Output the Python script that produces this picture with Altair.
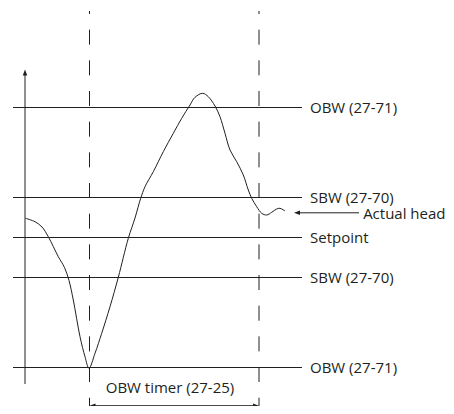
import altair as alt
import pandas as pd

# Pressure curve ("Actual head"), time t vs head h (setpoint = 0)
curve_t = [0.05, 1.0, 1.7, 2.33, 3.33, 3.95, 4.4, 4.83, 5.5, 6.0, 6.4,
           7.0, 7.67, 8.5, 9.33, 10.33, 11.0, 11.57, 12.0, 12.83, 13.83, 14.83, 15.67,
           16.5, 17.0, 17.77, 18.33, 19.0, 19.5, 20.0, 20.5, 21.17, 21.83, 22.33, 22.67,
           23.17, 23.67, 24.17, 24.67, 25.17, 25.5, 26.0]
curve_h = [1.92, 1.58, 1.05, 0.08, -1.92, -3.0, -4.3, -6.25, -9.92, -11.92, -13.08,
           -11.58, -9.58, -6.92, -3.98, -0.08, 1.95, 3.92, 5.08, 6.58, 8.58, 10.42, 11.92,
           13.25, 14.02, 14.42, 14.08, 13.15, 12.08, 10.42, 8.75, 7.58, 6.25, 4.75, 3.92,
           3.08, 2.42, 2.25, 2.52, 2.85, 2.92, 2.65]

# Band levels and their labels
level_h = [13, 4, 0, -4, -13]
level_labels = ["OBW (27-71)", "SBW (27-70)", "Setpoint", "SBW (27-70)", "OBW (27-71)"]
level_t0, level_t1, label_t = -1.2, 27.7, 28.5

# Timer marks
timer_t = [6.45, 23.4]
timer_label = "OBW timer (27-25)"
actual_label = "Actual head"

W, H = 438, 398
X_DOM = [-1.7, -1.7 + W / 10]
Y_DOM = [22.95 - H / 10, 22.95]
INK = "#231f20"
FONT = "Open Sans"
FS = 15
ARROW = "M0,0L-1,-0.38L-1,0.38Z"

xs = alt.Scale(domain=X_DOM, nice=False, zero=False)
ys = alt.Scale(domain=Y_DOM, nice=False, zero=False)

def X(f="t"):
    return alt.X(f"{f}:Q", scale=xs, axis=None)

def Y(f="h"):
    return alt.Y(f"{f}:Q", scale=ys, axis=None)

levels = pd.DataFrame({"h": level_h, "label": level_labels,
                       "t0": level_t0, "t1": level_t1, "tl": label_t})
hlines = alt.Chart(levels).mark_rule(color=INK, strokeWidth=1).encode(
    x=X("t0"), x2="t1", y=Y())
labels = alt.Chart(levels).mark_text(align="left", baseline="middle", font=FONT,
                                     fontSize=FS, color=INK).encode(
    x=X("tl"), y=Y(), text="label:N")

axis_df = pd.DataFrame({"t": [0.0], "h0": [-14.65], "h1": [16.3]})
yaxis = alt.Chart(axis_df).mark_rule(color=INK, strokeWidth=1).encode(
    x=X(), y=Y("h0"), y2="h1")

dash_df = pd.DataFrame({"t": timer_t, "h0": [22.65, 22.65], "h1": [-17.65, -17.65]})
dashed = alt.Chart(dash_df).mark_rule(color=INK, strokeWidth=1, strokeDash=[15, 15.67],
                                      strokeDashOffset=12).encode(
    x=X(), y=Y("h0"), y2="h1")

curve_df = pd.DataFrame({"t": curve_t, "h": curve_h, "i": range(len(curve_t))})
curve = alt.Chart(curve_df).mark_line(color=INK, strokeWidth=1,
                                      interpolate="catmull-rom").encode(
    x=X(), y=Y(), order="i:Q")

seg_df = pd.DataFrame({"t0": [27.3, 6.9], "t1": [33.4, 23.0], "h": [2.47, -16.82]})
segs = alt.Chart(seg_df).mark_rule(color=INK, strokeWidth=1).encode(
    x=X("t0"), x2="t1", y=Y())

heads_df = pd.DataFrame({"t": [0.0, 26.9, 6.45, 23.4],
                         "h": [16.8, 2.47, -16.82, -16.82],
                         "a": [270, 180, 180, 0]})
heads = alt.Chart(heads_df).mark_point(shape=ARROW, filled=True, color=INK, size=144,
                                       opacity=1, strokeWidth=0).encode(
    x=X(), y=Y(), angle=alt.Angle("a:Q", scale=None))

txt_df = pd.DataFrame({"t": [X_DOM[1] - 0.05, 14.5], "h": [2.38, -15.0],
                       "label": [actual_label, timer_label]})
txt_actual = alt.Chart(txt_df.iloc[[0]]).mark_text(align="right", baseline="middle", font=FONT,
                                                   fontSize=FS, color=INK).encode(
    x=X(), y=Y(), text="label:N")
txt_timer = alt.Chart(txt_df.iloc[[1]]).mark_text(align="center", baseline="middle", font=FONT,
                                                  fontSize=FS, color=INK).encode(
    x=X(), y=Y(), text="label:N")

chart = alt.layer(hlines, dashed, yaxis, curve, segs, heads, labels, txt_actual, txt_timer).properties(
    width=W, height=H, autosize=alt.AutoSizeParams(type="none"), padding=0
).configure_view(stroke=None)

chart.save("out.html", embed_options={"renderer": "svg", "actions": False})
